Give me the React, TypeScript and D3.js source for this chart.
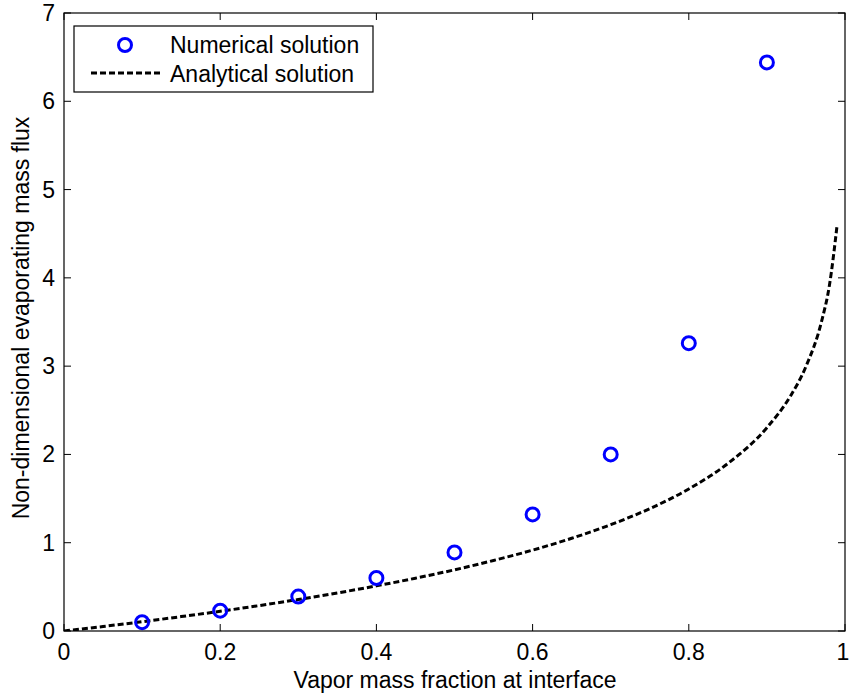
import React from "react";
import * as d3 from "d3";

const numX = [0.1, 0.2, 0.3, 0.4, 0.5, 0.6, 0.7, 0.8, 0.9];
const numY = [0.1, 0.23, 0.39, 0.6, 0.89, 1.32, 2.0, 3.26, 6.44];

const anaX = [0, 0.05, 0.1, 0.15, 0.2, 0.25, 0.3, 0.35, 0.4, 0.45, 0.5, 0.55, 0.6, 0.65, 0.7, 0.75, 0.8, 0.85, 0.9, 0.93, 0.95, 0.97, 0.98, 0.99];
const anaY = [0, 0.051, 0.105, 0.163, 0.223, 0.288, 0.357, 0.431, 0.511, 0.598, 0.693, 0.799, 0.916, 1.05, 1.204, 1.386, 1.609, 1.897, 2.303, 2.659, 2.996, 3.507, 3.912, 4.605];

const xTicks = [0, 0.2, 0.4, 0.6, 0.8, 1];
const yTicks = [0, 1, 2, 3, 4, 5, 6, 7];

const W = 849, H = 699;
const L = 64, R = 845, T = 13, B = 631;

export default function App() {
  const x = d3.scaleLinear().domain([0, 1]).range([L, R]);
  const y = d3.scaleLinear().domain([0, 7]).range([B, T]);
  const line = d3.line<number>().x((_, i) => x(anaX[i])).y((d) => y(d)).curve(d3.curveMonotoneX);
  const font = "Liberation Sans, Arial, sans-serif";
  const fs = 23;
  const tl = 7;
  return (
    <svg width={W} height={H} style={{ position: "absolute", left: 0, top: 0 }} fontFamily={font}>
      <rect x={0} y={0} width={W} height={H} fill="#fff" />
      <defs>
        <clipPath id="c"><rect x={L} y={T} width={R - L} height={B - T} /></clipPath>
      </defs>
      {xTicks.map((t) => (
        <g key={"x" + t}>
          <line x1={x(t)} x2={x(t)} y1={B} y2={B - tl} stroke="#000" strokeWidth={1} />
          <line x1={x(t)} x2={x(t)} y1={T} y2={T + tl} stroke="#000" strokeWidth={1} />
          <text x={t === 1 ? x(t) - 2 : x(t)} y={B + 29} fontSize={fs} textAnchor="middle" fill="#000">{String(t)}</text>
        </g>
      ))}
      {yTicks.map((t) => (
        <g key={"y" + t}>
          <line x1={L} x2={L + tl} y1={y(t)} y2={y(t)} stroke="#000" strokeWidth={1} />
          <line x1={R} x2={R - tl} y1={y(t)} y2={y(t)} stroke="#000" strokeWidth={1} />
          <text x={L - 9} y={y(t) + 8} fontSize={fs} textAnchor="end" fill="#000">{String(t)}</text>
        </g>
      ))}
      <rect x={L} y={T} width={R - L} height={B - T} fill="none" stroke="#000" strokeWidth={1.2} />
      <g clipPath="url(#c)">
        <path d={line(anaY) || ""} fill="none" stroke="#000" strokeWidth={3} strokeDasharray="6,3" />
      </g>
      {numX.map((v, i) => (
        <circle key={i} cx={x(v)} cy={y(numY[i])} r={6.5} fill="none" stroke="#0000ff" strokeWidth={3} />
      ))}
      <text x={455} y={688} fontSize={fs} textAnchor="middle" fill="#000">Vapor mass fraction at interface</text>
      <text transform={`translate(29,318) rotate(-90)`} fontSize={fs} textAnchor="middle" fill="#000">Non-dimensional evaporating mass flux</text>
      <g>
        <rect x={74} y={26} width={299} height={66} fill="#fff" stroke="#000" strokeWidth={1.2} />
        <circle cx={125} cy={45} r={6.5} fill="none" stroke="#0000ff" strokeWidth={3} />
        <text x={170} y={53} fontSize={fs} fill="#000">Numerical solution</text>
        <line x1={91} x2={162} y1={73} y2={73} stroke="#000" strokeWidth={3} strokeDasharray="6,3" />
        <text x={170} y={82} fontSize={fs} fill="#000">Analytical solution</text>
      </g>
    </svg>
  );
}
